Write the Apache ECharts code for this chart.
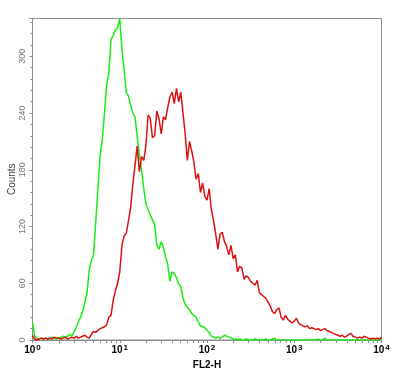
<!DOCTYPE html>
<html>
<head>
<meta charset="utf-8">
<script src="https://cdn.jsdelivr.net/npm/echarts@6/dist/echarts.min.js"></script>
<style>
  html, body { margin: 0; padding: 0; background: #fff; }
  #main { width: 400px; height: 373px; }
</style>
</head>
<body>
<div id="main"></div>
<script>
// channel grid: log10(FL2-H) from 0 to 4, one channel per 0.025 decade
var channelStep = 0.025;
var decades = [0, 1, 2, 3, 4];

// counts per channel
var greenCounts = [
  19, 4, 2, 1, 2, 1, 2, 1, 2, 3, 2, 1, 2, 3, 4, 3, 4, 6, 4, 8,
  13, 19, 24, 30, 40, 50, 74, 84, 90, 125, 160, 195, 212, 240, 270, 282, 318, 322, 328, 330,
  340, 308, 285, 262, 258, 248, 240, 236, 215, 196, 180, 160, 144, 138, 132, 127, 122, 100, 96, 104,
  98, 88, 80, 62, 72, 70, 66, 60, 56, 44, 38, 34, 32, 28, 26, 24, 19, 15, 14, 13,
  10, 8, 4, 3, 2, 3, 2, 3, 5, 4, 3, 2, 1, 1, 0, 1, 0, 0, 1, 0,
  0, 0, 1, 0, 0, 0, 0, 1, 0, 0, 1, 2, 0, 0, 0, 0, 0, 0, 0, 0,
  0, 0, 0, 0, 0, 0, 0, 0, 0, 0, 0, 1, 0, 0, 2, 0, 0, 0, 0, 0,
  0, 0, 0, 0, 0, 0, 0, 0, 0, 0, 0, 0, 0, 0, 0, 0, 0, 0, 0, 0,
  0
];
var redCounts = [
  5, 1, 0, 1, 2, 1, 2, 1, 2, 1, 3, 2, 2, 1, 2, 3, 1, 2, 3, 2,
  4, 2, 3, 4, 5, 3, 2, 6, 9, 8, 10, 12, 13, 14, 16, 24, 26, 42, 52, 60,
  72, 100, 110, 113, 126, 140, 165, 185, 205, 178, 194, 190, 206, 238, 234, 214, 216, 242, 234, 218,
  236, 233, 246, 257, 262, 250, 266, 252, 262, 240, 218, 190, 210, 200, 188, 170, 176, 156, 166, 152,
  148, 160, 138, 126, 112, 96, 112, 114, 104, 99, 90, 100, 86, 90, 72, 78, 76, 64, 68, 66,
  62, 60, 58, 63, 50, 48, 46, 44, 40, 36, 30, 28, 32, 34, 24, 21, 26, 22, 20, 18,
  20, 23, 18, 16, 15, 14, 15, 12, 13, 12, 11, 12, 10, 11, 12, 10, 9, 8, 7, 6,
  5, 4, 5, 3, 4, 6, 7, 4, 3, 2, 3, 2, 4, 3, 2, 1, 2, 1, 2, 1,
  3
];

function toPairs(counts) {
  return counts.map(function (c, i) { return [+(i * channelStep).toFixed(3), c]; });
}

// minor tick positions of the log axis (1..9 in each decade)
var logTicks = [];
decades.forEach(function (d) {
  for (var k = 1; k <= 9; k++) {
    if (d === 4 && k > 1) break;
    logTicks.push(d + Math.log10(k));
  }
});

var chart = echarts.init(document.getElementById('main'));
chart.setOption({
  animation: false,
  grid: {
    left: 32.5,
    right: 18.5,
    top: 18.5,
    bottom: 33,
    show: true,
    borderColor: '#8c8c8c',
    borderWidth: 1,
    outerBoundsMode: 'none'
  },
  xAxis: {
    type: 'value',
    min: 0,
    max: 4,
    name: 'FL2-H',
    nameLocation: 'middle',
    nameGap: 16,
    nameTextStyle: {
      fontFamily: 'Liberation Sans',
      fontSize: 10,
      fontWeight: 'bold',
      color: '#000'
    },
    splitLine: { show: false },
    axisLine: { lineStyle: { color: '#8c8c8c', width: 1 } },
    axisTick: {
      customValues: logTicks,
      length: 3,
      lineStyle: { color: '#8c8c8c' }
    },
    axisLabel: {
      customValues: decades,
      margin: 4,
      formatter: function (v) { return '{b|10}{s|' + v + '}'; },
      rich: {
        b: { fontFamily: 'Liberation Sans', fontSize: 10, fontWeight: 'bold', color: '#000' },
        s: { fontFamily: 'Liberation Sans', fontSize: 8, fontWeight: 'bold', color: '#000', padding: [0, 0, 5, 1] }
      }
    }
  },
  yAxis: {
    type: 'value',
    min: 0,
    max: 340,
    interval: 60,
    name: 'Counts',
    nameLocation: 'middle',
    nameGap: 15,
    nameMoveOverlap: false,
    nameRotate: 90,
    nameTextStyle: {
      fontFamily: 'Liberation Sans',
      fontSize: 10,
      color: '#444'
    },
    splitLine: { show: false },
    axisLine: { show: true, lineStyle: { color: '#8c8c8c', width: 1 } },
    axisTick: { show: true, length: 3, lineStyle: { color: '#8c8c8c' } },
    minorTick: { show: true, splitNumber: 5, length: 2, lineStyle: { color: '#8c8c8c' } },
    axisLabel: {
      rotate: 90,
      margin: 5,
      showMaxLabel: false,
      fontFamily: 'Liberation Sans',
      fontSize: 9,
      color: '#777'
    }
  },
  series: [
    {
      name: 'green',
      type: 'line',
      showSymbol: false,
      data: toPairs(greenCounts),
      lineStyle: { color: '#16ee16', width: 1.5 },
      itemStyle: { color: '#16ee16' }
    },
    {
      name: 'red',
      type: 'line',
      showSymbol: false,
      data: toPairs(redCounts),
      lineStyle: { color: '#dd1111', width: 1.5 },
      itemStyle: { color: '#dd1111' }
    }
  ]
});
</script>
</body>
</html>
